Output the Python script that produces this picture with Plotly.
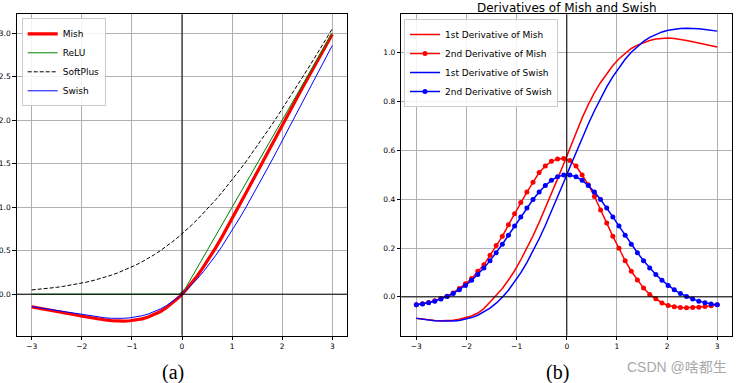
import plotly.graph_objects as go

# ---------------- data ----------------
x = [-3.0, -2.8776, -2.7551, -2.6327, -2.5102, -2.3878, -2.2653, -2.1429, -2.0204, -1.898,
     -1.7755, -1.6531, -1.5306, -1.4082, -1.2857, -1.1633, -1.0408, -0.9184, -0.7959, -0.6735,
     -0.551, -0.4286, -0.3061, -0.1837, -0.0612, 0.0612, 0.1837, 0.3061, 0.4286, 0.551,
     0.6735, 0.7959, 0.9184, 1.0408, 1.1633, 1.2857, 1.4082, 1.5306, 1.6531, 1.7755,
     1.898, 2.0204, 2.1429, 2.2653, 2.3878, 2.5102, 2.6327, 2.7551, 2.8776, 3.0]

mish = [-0.1457, -0.1574, -0.1697, -0.1825, -0.1957, -0.2093, -0.2230, -0.2367, -0.2503, -0.2633,
        -0.2756, -0.2867, -0.2961, -0.3033, -0.3077, -0.3087, -0.3055, -0.2974, -0.2834, -0.2628,
        -0.2348, -0.1986, -0.1536, -0.0994, -0.0355, 0.0379, 0.1209, 0.2128, 0.3132, 0.4211,
        0.5356, 0.6556, 0.7801, 0.9081, 1.0385, 1.1705, 1.3034, 1.4367, 1.5698, 1.7025,
        1.8346, 1.9658, 2.0961, 2.2256, 2.3542, 2.4820, 2.6091, 2.7355, 2.8613, 2.9865]

relu = [0.0] * 25 + [0.0612, 0.1837, 0.3061, 0.4286, 0.551, 0.6735, 0.7959, 0.9184, 1.0408, 1.1633,
                     1.2857, 1.4082, 1.5306, 1.6531, 1.7755, 1.898, 2.0204, 2.1429, 2.2653, 2.3878,
                     2.5102, 2.6327, 2.7551, 2.8776, 3.0]

softplus = [0.0486, 0.0547, 0.0617, 0.0694, 0.0781, 0.0879, 0.0988, 0.1109, 0.1245, 0.1397,
            0.1565, 0.1752, 0.1959, 0.2188, 0.2441, 0.2719, 0.3025, 0.3359, 0.3724, 0.4121,
            0.4551, 0.5016, 0.5518, 0.6055, 0.6630, 0.7242, 0.7892, 0.8579, 0.9302, 1.0061,
            1.0855, 1.1683, 1.2543, 1.3433, 1.4352, 1.5298, 1.6270, 1.7265, 1.8282, 1.9320,
            2.0376, 2.1449, 2.2538, 2.3641, 2.4756, 2.5883, 2.7021, 2.8168, 2.9323, 3.0486]

swish = [-0.1423, -0.1533, -0.1648, -0.1766, -0.1886, -0.2008, -0.2130, -0.2250, -0.2366, -0.2474,
         -0.2572, -0.2657, -0.2723, -0.2767, -0.2785, -0.2769, -0.2716, -0.2620, -0.2475, -0.2274,
         -0.2015, -0.1691, -0.1298, -0.0834, -0.0297, 0.0316, 0.1003, 0.1763, 0.2595, 0.3496,
         0.4460, 0.5485, 0.6564, 0.7692, 0.8863, 1.0073, 1.1314, 1.2583, 1.3874, 1.5183,
         1.6506, 1.7839, 1.9179, 2.0523, 2.1869, 2.3216, 2.4561, 2.5903, 2.7243, 2.8577]

mish_d1 = [-0.088, -0.092, -0.095, -0.097, -0.098, -0.098, -0.096, -0.092, -0.086, -0.078,
           -0.066, -0.048, -0.021, 0.005, 0.034, 0.069, 0.107, 0.151, 0.198, 0.250,
           0.305, 0.362, 0.422, 0.483, 0.545, 0.610, 0.675, 0.733, 0.787, 0.836,
           0.878, 0.915, 0.947, 0.975, 0.998, 1.017, 1.031, 1.042, 1.050, 1.056,
           1.059, 1.060, 1.058, 1.055, 1.050, 1.045, 1.040, 1.034, 1.028, 1.023]

mish_d2 = [-0.032, -0.028, -0.023, -0.016, -0.008, 0.003, 0.016, 0.034, 0.054, 0.075,
           0.105, 0.132, 0.170, 0.210, 0.248, 0.295, 0.340, 0.386, 0.429, 0.469,
           0.509, 0.536, 0.555, 0.565, 0.567, 0.558, 0.536, 0.499, 0.459, 0.411,
           0.356, 0.302, 0.248, 0.199, 0.148, 0.105, 0.069, 0.036, 0.010, -0.008,
           -0.025, -0.035, -0.040, -0.044, -0.045, -0.044, -0.042, -0.039, -0.036, -0.032]

swish_d1 = [-0.0881, -0.0919, -0.0951, -0.0977, -0.0993, -0.0998, -0.0990, -0.0964, -0.0918, -0.0848,
            -0.0751, -0.0623, -0.0460, -0.0258, -0.0016, 0.0271, 0.0602, 0.0980, 0.1404, 0.1871,
            0.2378, 0.2921, 0.3493, 0.4087, 0.4694, 0.5306, 0.5913, 0.6507, 0.7079, 0.7622,
            0.8129, 0.8596, 0.9020, 0.9398, 0.9729, 1.0016, 1.0258, 1.0460, 1.0623, 1.0751,
            1.0848, 1.0918, 1.0964, 1.0990, 1.0998, 1.0993, 1.0977, 1.0951, 1.0919, 1.0881]

swish_d2 = [-0.0323, -0.0288, -0.0239, -0.0175, -0.0092, 0.0011, 0.0137, 0.0289, 0.0468, 0.0677,
            0.0915, 0.1185, 0.1483, 0.1808, 0.2157, 0.2523, 0.2898, 0.3274, 0.3640, 0.3984,
            0.4295, 0.4561, 0.4771, 0.4916, 0.4991, 0.4991, 0.4916, 0.4771, 0.4561, 0.4295,
            0.3984, 0.3640, 0.3274, 0.2898, 0.2523, 0.2157, 0.1808, 0.1483, 0.1185, 0.0915,
            0.0677, 0.0468, 0.0289, 0.0137, 0.0011, -0.0092, -0.0175, -0.0239, -0.0288, -0.0323]

x_ticks = [-3, -2, -1, 0, 1, 2, 3]
y_ticks_a = [0.0, 0.5, 1.0, 1.5, 2.0, 2.5, 3.0]
y_ticks_b = [0.0, 0.2, 0.4, 0.6, 0.8, 1.0]

title_b = "Derivatives of Mish and Swish"
caption_a = "(a)"
caption_b = "(b)"
watermark = "CSDN @啥都生"

# ---------------- figure ----------------
RED = "#ff0000"
GREEN = "#008000"
BLUE = "#0000ff"

fig = go.Figure()

# panel (a)
fig.add_trace(go.Scatter(x=x, y=mish, mode="lines", name="Mish",
                         line=dict(color=RED, width=3.2), xaxis="x", yaxis="y", legend="legend"))
fig.add_trace(go.Scatter(x=x, y=relu, mode="lines", name="ReLU",
                         line=dict(color=GREEN, width=1), xaxis="x", yaxis="y", legend="legend"))
fig.add_trace(go.Scatter(x=x, y=softplus, mode="lines", name="SoftPlus",
                         line=dict(color="black", width=1, dash="4px,2px"), xaxis="x", yaxis="y",
                         legend="legend"))
fig.add_trace(go.Scatter(x=x, y=swish, mode="lines", name="Swish",
                         line=dict(color=BLUE, width=1), xaxis="x", yaxis="y", legend="legend"))

# panel (b)
fig.add_trace(go.Scatter(x=x, y=mish_d1, mode="lines", name="1st Derivative of Mish",
                         line=dict(color=RED, width=1.5), xaxis="x2", yaxis="y2", legend="legend2"))
fig.add_trace(go.Scatter(x=x, y=mish_d2, mode="lines+markers", name="2nd Derivative of Mish",
                         line=dict(color=RED, width=1.5), marker=dict(color=RED, size=5),
                         xaxis="x2", yaxis="y2", legend="legend2"))
fig.add_trace(go.Scatter(x=x, y=swish_d1, mode="lines", name="1st Derivative of Swish",
                         line=dict(color=BLUE, width=1.5), xaxis="x2", yaxis="y2", legend="legend2"))
fig.add_trace(go.Scatter(x=x, y=swish_d2, mode="lines+markers", name="2nd Derivative of Swish",
                         line=dict(color=BLUE, width=1.5), marker=dict(color=BLUE, size=5),
                         xaxis="x2", yaxis="y2", legend="legend2"))

W, H = 742, 383
ax_common = dict(
    showgrid=True, gridcolor="#b0b0b0", gridwidth=0.8,
    zeroline=False,
    showline=True, mirror=True, linecolor="black", linewidth=1,
    ticks="outside", ticklen=3.5, tickwidth=0.8, tickcolor="black",
    tickfont=dict(family="DejaVu Sans", size=7.5, color="black"),
    automargin=False, fixedrange=True,
)

y_dom = [1 - 335.7 / H, 1 - 14.3 / H]

fig.update_layout(
    width=W, height=H,
    margin=dict(l=0, r=0, t=0, b=0),
    template="none",
    paper_bgcolor="white", plot_bgcolor="white",
    font=dict(family="DejaVu Sans", color="black"),
    xaxis=dict(domain=[16.7 / W, 347.3 / W], range=[-3.3, 3.3], tickvals=x_ticks,
               anchor="y", **ax_common),
    yaxis=dict(domain=y_dom, range=[-0.477, 3.216], tickvals=y_ticks_a, tickformat=".1f",
               anchor="x", **ax_common),
    xaxis2=dict(domain=[401.3 / W, 732.3 / W], range=[-3.3, 3.3], tickvals=x_ticks,
                anchor="y2", **ax_common),
    yaxis2=dict(domain=y_dom, range=[-0.159, 1.157], tickvals=y_ticks_b, tickformat=".1f",
                anchor="x2", **ax_common),
    legend=dict(x=21.7 / W, y=1 - 18.3 / H, xanchor="left", yanchor="top",
                bgcolor="rgba(255,255,255,0.85)", bordercolor="#cccccc", borderwidth=1,
                font=dict(family="DejaVu Sans", size=9, color="black"),
                itemwidth=30, tracegroupgap=0),
    legend2=dict(x=404 / W, y=1 - 19 / H, xanchor="left", yanchor="top",
                 bgcolor="rgba(255,255,255,0.85)", bordercolor="#cccccc", borderwidth=1,
                 font=dict(family="DejaVu Sans", size=9, color="black"),
                 itemwidth=30, tracegroupgap=0),
    title=dict(text=title_b, x=566.8 / W, xanchor="center", xref="paper",
               y=1 - 7.5 / H, yanchor="middle", yref="container",
               font=dict(family="DejaVu Sans", size=12, color="black")),
    showlegend=True,
)

# axhline / axvline at zero, drawn above the curves (as in the reference)
for xr, yr in (("x", "y"), ("x2", "y2")):
    fig.add_shape(type="line", xref=xr + " domain", x0=0, x1=1, yref=yr, y0=0, y1=0,
                  line=dict(color="black", width=1), layer="above")
    fig.add_shape(type="line", xref=xr, x0=0, x1=0, yref=yr + " domain", y0=0, y1=1,
                  line=dict(color="black", width=1), layer="above")

fig.add_annotation(text=caption_a, x=173 / W, y=1 - 372.7 / H, xref="paper", yref="paper",
                   xanchor="center", yanchor="middle", showarrow=False,
                   font=dict(family="Liberation Serif", size=20, color="black"))
fig.add_annotation(text=caption_b, x=557.3 / W, y=1 - 372.7 / H, xref="paper", yref="paper",
                   xanchor="center", yanchor="middle", showarrow=False,
                   font=dict(family="Liberation Serif", size=20, color="black"))
fig.add_annotation(text=watermark, x=677 / W, y=1 - 366.7 / H, xref="paper", yref="paper",
                   xanchor="center", yanchor="middle", showarrow=False,
                   font=dict(family="Liberation Sans, Noto Sans CJK SC", size=14, color="#a9a9a9"))

fig.write_html("out.html",
               config={"displayModeBar": False, "staticPlot": False},
               post_script="document.body.style.margin='0px';document.body.style.overflow='hidden';")
